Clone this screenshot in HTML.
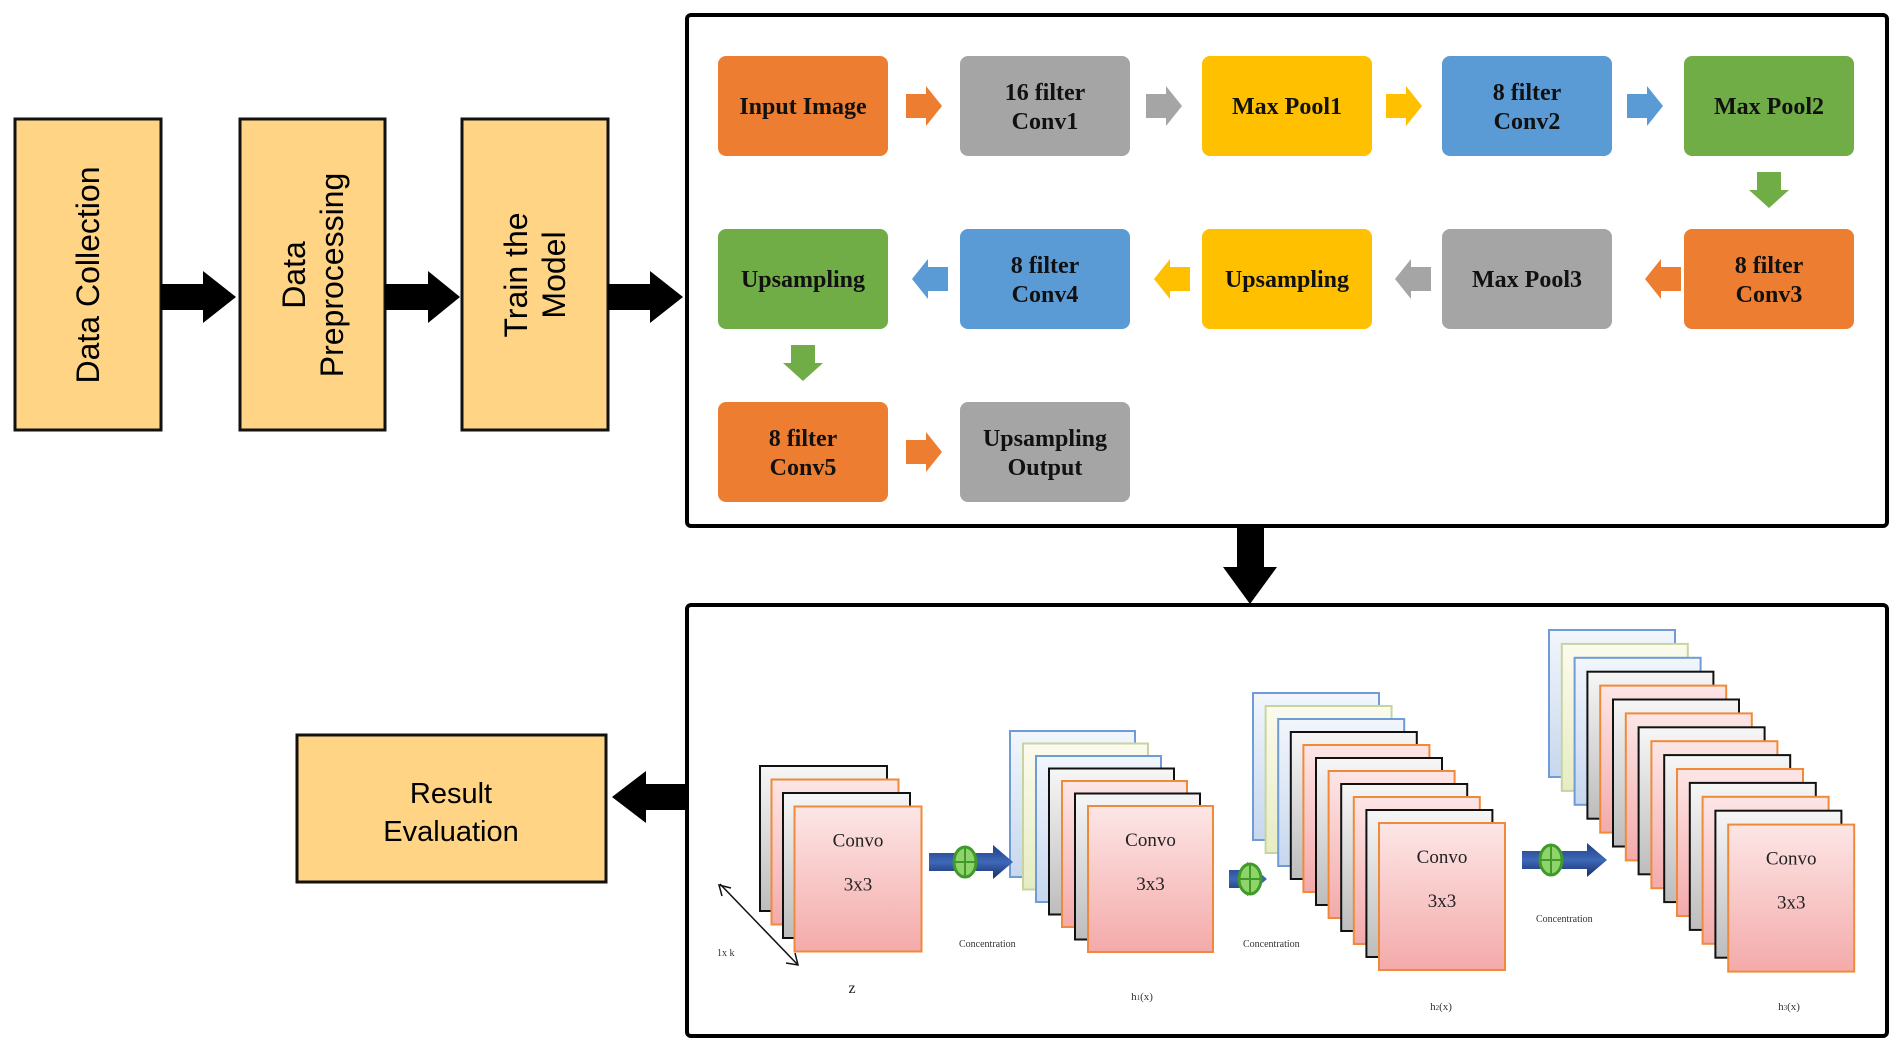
<!DOCTYPE html>
<html><head><meta charset="utf-8"><style>
html,body{margin:0;padding:0;background:#fff;}
svg{display:block;}
.n{font-family:"Liberation Serif",serif;font-weight:bold;font-size:24px;fill:#111;text-anchor:middle;}
.v{font-family:"Liberation Sans",sans-serif;font-size:32px;fill:#000;text-anchor:middle;}
.c{font-family:"Liberation Serif",serif;font-size:19px;fill:#222;text-anchor:middle;}
.s{font-family:"Liberation Serif",serif;font-size:10px;fill:#333;}
</style></head><body>
<svg id="g" width="1900" height="1050" viewBox="0 0 1900 1050" xmlns="http://www.w3.org/2000/svg">
<defs>
<linearGradient id="pk" x1="0" y1="0" x2="0" y2="1"><stop offset="0" stop-color="#fde6e6"/><stop offset="1" stop-color="#f4aaaa"/></linearGradient>
<linearGradient id="gy" x1="0" y1="0" x2="0" y2="1"><stop offset="0" stop-color="#f6f6f6"/><stop offset="1" stop-color="#bdbdbd"/></linearGradient>
<linearGradient id="bl" x1="0" y1="0" x2="0" y2="1"><stop offset="0" stop-color="#f2f6fc"/><stop offset="1" stop-color="#c7d7ee"/></linearGradient>
<linearGradient id="yl" x1="0" y1="0" x2="0" y2="1"><stop offset="0" stop-color="#fbfbee"/><stop offset="1" stop-color="#e6ecc2"/></linearGradient>
<linearGradient id="ar" x1="0" y1="0" x2="0" y2="1"><stop offset="0" stop-color="#1f3f86"/><stop offset="0.5" stop-color="#3e68b8"/><stop offset="1" stop-color="#162c68"/></linearGradient>
</defs>
<rect x="15" y="119" width="146" height="311" fill="#ffd585" stroke="#111" stroke-width="3"/>
<rect x="240" y="119" width="145" height="311" fill="#ffd585" stroke="#111" stroke-width="3"/>
<rect x="462" y="119" width="146" height="311" fill="#ffd585" stroke="#111" stroke-width="3"/>
<text class="v" transform="translate(99,275) rotate(-90)">Data Collection</text>
<text class="v" transform="translate(305,275) rotate(-90)">Data</text>
<text class="v" transform="translate(343,275) rotate(-90)">Preprocessing</text>
<text class="v" transform="translate(527,275) rotate(-90)">Train the</text>
<text class="v" transform="translate(565,275) rotate(-90)">Model</text>
<polygon points="161,284 203,284 203,271 236,297 203,323 203,310 161,310" fill="#000"/>
<polygon points="385,284 428,284 428,271 460,297 428,323 428,310 385,310" fill="#000"/>
<polygon points="608,284 650,284 650,271 683,297 650,323 650,310 608,310" fill="#000"/>
<polygon points="1237,527 1264,527 1264,567 1277,567 1250,604 1223,567 1237,567" fill="#000"/>
<polygon points="686,784 646,784 646,771 612,797 646,823 646,810 686,810" fill="#000"/>
<rect x="687" y="15" width="1200" height="511" rx="4" fill="none" stroke="#000" stroke-width="4"/>
<rect x="687" y="605" width="1200" height="431" rx="4" fill="none" stroke="#000" stroke-width="4"/>
<rect x="297" y="735" width="309" height="147" fill="#ffd585" stroke="#111" stroke-width="3"/>
<text class="v" style="font-size:29px" x="451" y="803">Result</text>
<text class="v" style="font-size:29px" x="451" y="841">Evaluation</text>
<g id="nodes"></g>
<g id="stacks"></g>
<line x1="720" y1="884" x2="798" y2="965" stroke="#111" stroke-width="1.5"/>
<polyline points="722,896 719,885 731,888" fill="none" stroke="#111" stroke-width="1.5"/>
<polyline points="786,963 798,965 795,953" fill="none" stroke="#111" stroke-width="1.5"/>
<text class="s" x="717" y="956">1x k</text>
<text class="c" x="852" y="993" style="font-size:16px">z</text>
<text class="s" style="font-size:11px" x="1142" y="1000" text-anchor="middle">h<tspan font-size="7">1</tspan>(x)</text>
<text class="s" style="font-size:11px" x="1441" y="1010" text-anchor="middle">h<tspan font-size="7">2</tspan>(x)</text>
<text class="s" style="font-size:11px" x="1789" y="1010" text-anchor="middle">h<tspan font-size="7">3</tspan>(x)</text>
<text class="s" x="959" y="947">Concentration</text>
<text class="s" x="1243" y="947">Concentration</text>
<text class="s" x="1536" y="922">Concentration</text>
</svg>
<script>
var NS="http://www.w3.org/2000/svg";
function el(p,t,a,txt){var e=document.createElementNS(NS,t);for(var k in a)e.setAttribute(k,a[k]);if(txt)e.textContent=txt;p.appendChild(e);return e;}
var N=document.getElementById('nodes');
var cols=[718,960,1202,1442,1684],rows=[56,229,402],W=170,H=100;
var O='#ed7d31',G='#a5a5a5',Y='#ffc000',B='#5b9bd5',Gr='#70ad47';
var nodes=[[0,0,O,['Input Image']],[1,0,G,['16 filter','Conv1']],[2,0,Y,['Max Pool1']],[3,0,B,['8 filter','Conv2']],[4,0,Gr,['Max Pool2']],
[4,1,O,['8 filter','Conv3']],[3,1,G,['Max Pool3']],[2,1,Y,['Upsampling']],[1,1,B,['8 filter','Conv4']],[0,1,Gr,['Upsampling']],
[0,2,O,['8 filter','Conv5']],[1,2,G,['Upsampling','Output']]];
nodes.forEach(function(n){var x=cols[n[0]],y=rows[n[1]];el(N,'rect',{x:x,y:y,width:W,height:H,rx:8,fill:n[2]});
var l=n[3];if(l.length==1)el(N,'text',{'class':'n',x:x+W/2,y:y+H/2+8},l[0]);else{el(N,'text',{'class':'n',x:x+W/2,y:y+H/2-6},l[0]);el(N,'text',{'class':'n',x:x+W/2,y:y+H/2+23},l[1]);}});
function ha(x,y,c,dir){
var p=dir>0?[[x,y-12],[x+20,y-12],[x+20,y-20],[x+36,y],[x+20,y+20],[x+20,y+12],[x,y+12]]:[[x+36,y-12],[x+16,y-12],[x+16,y-20],[x,y],[x+16,y+20],[x+16,y+12],[x+36,y+12]];
el(N,'polygon',{points:p.map(function(q){return q.join(',')}).join(' '),fill:c});}
function va(x,y,c){var p=[[x-12,y],[x+12,y],[x+12,y+18],[x+20,y+18],[x,y+36],[x-20,y+18],[x-12,y+18]];el(N,'polygon',{points:p.map(function(q){return q.join(',')}).join(' '),fill:c});}
ha(906,106,O,1);ha(1146,106,G,1);ha(1386,106,Y,1);ha(1627,106,B,1);
va(1769,172,Gr);
ha(1645,279,O,-1);ha(1395,279,G,-1);ha(1154,279,Y,-1);ha(912,279,B,-1);
va(803,345,Gr);
ha(906,452,O,1);
var S=document.getElementById('stacks');
var sty={b:['url(#bl)','#6f9bd6'],y:['url(#yl)','#c8d4a0'],k:['url(#gy)','#111'],p:['url(#pk)','#f08a3a']};
function stack(x0,y0,dx,dy,seq,w,h){seq.forEach(function(s,i){var st=sty[s];el(S,'rect',{x:x0+i*dx,y:y0+i*dy,width:w,height:h,fill:st[0],stroke:st[1],'stroke-width':2});});
var fx=x0+(seq.length-1)*dx,fy=y0+(seq.length-1)*dy;el(S,'text',{'class':'c',x:fx+w/2,y:fy+40},'Convo');el(S,'text',{'class':'c',x:fx+w/2,y:fy+84},'3x3');}
stack(760,766,11.5,13.5,['k','p','k','p'],127,145);
stack(1010,731,13,12.5,['b','y','b','k','p','k','p'],125,146);
stack(1253,693,12.6,13,['b','y','b','k','p','k','p','k','p','k','p'],126,147);
stack(1549,630,12.8,13.9,['b','y','b','k','p','k','p','k','p','k','p','k','p','k','p'],126,147);
function ca(x,y,len,cx){el(S,'polygon',{points:[[x,y-9],[x+len-20,y-9],[x+len-20,y-17],[x+len,y],[x+len-20,y+17],[x+len-20,y+9],[x,y+9]].map(function(q){return q.join(',')}).join(' '),fill:'url(#ar)'});
el(S,'ellipse',{cx:cx,cy:y,rx:11,ry:15,fill:'#8fd46a',stroke:'#3f9a2a','stroke-width':3});
el(S,'line',{x1:cx-11,y1:y,x2:cx+11,y2:y,stroke:'#3f9a2a','stroke-width':2});el(S,'line',{x1:cx,y1:y-15,x2:cx,y2:y+15,stroke:'#3f9a2a','stroke-width':2});}
ca(929,862,84,965);ca(1229,879,38,1250);ca(1522,860,85,1551);
</script>
</body></html>
